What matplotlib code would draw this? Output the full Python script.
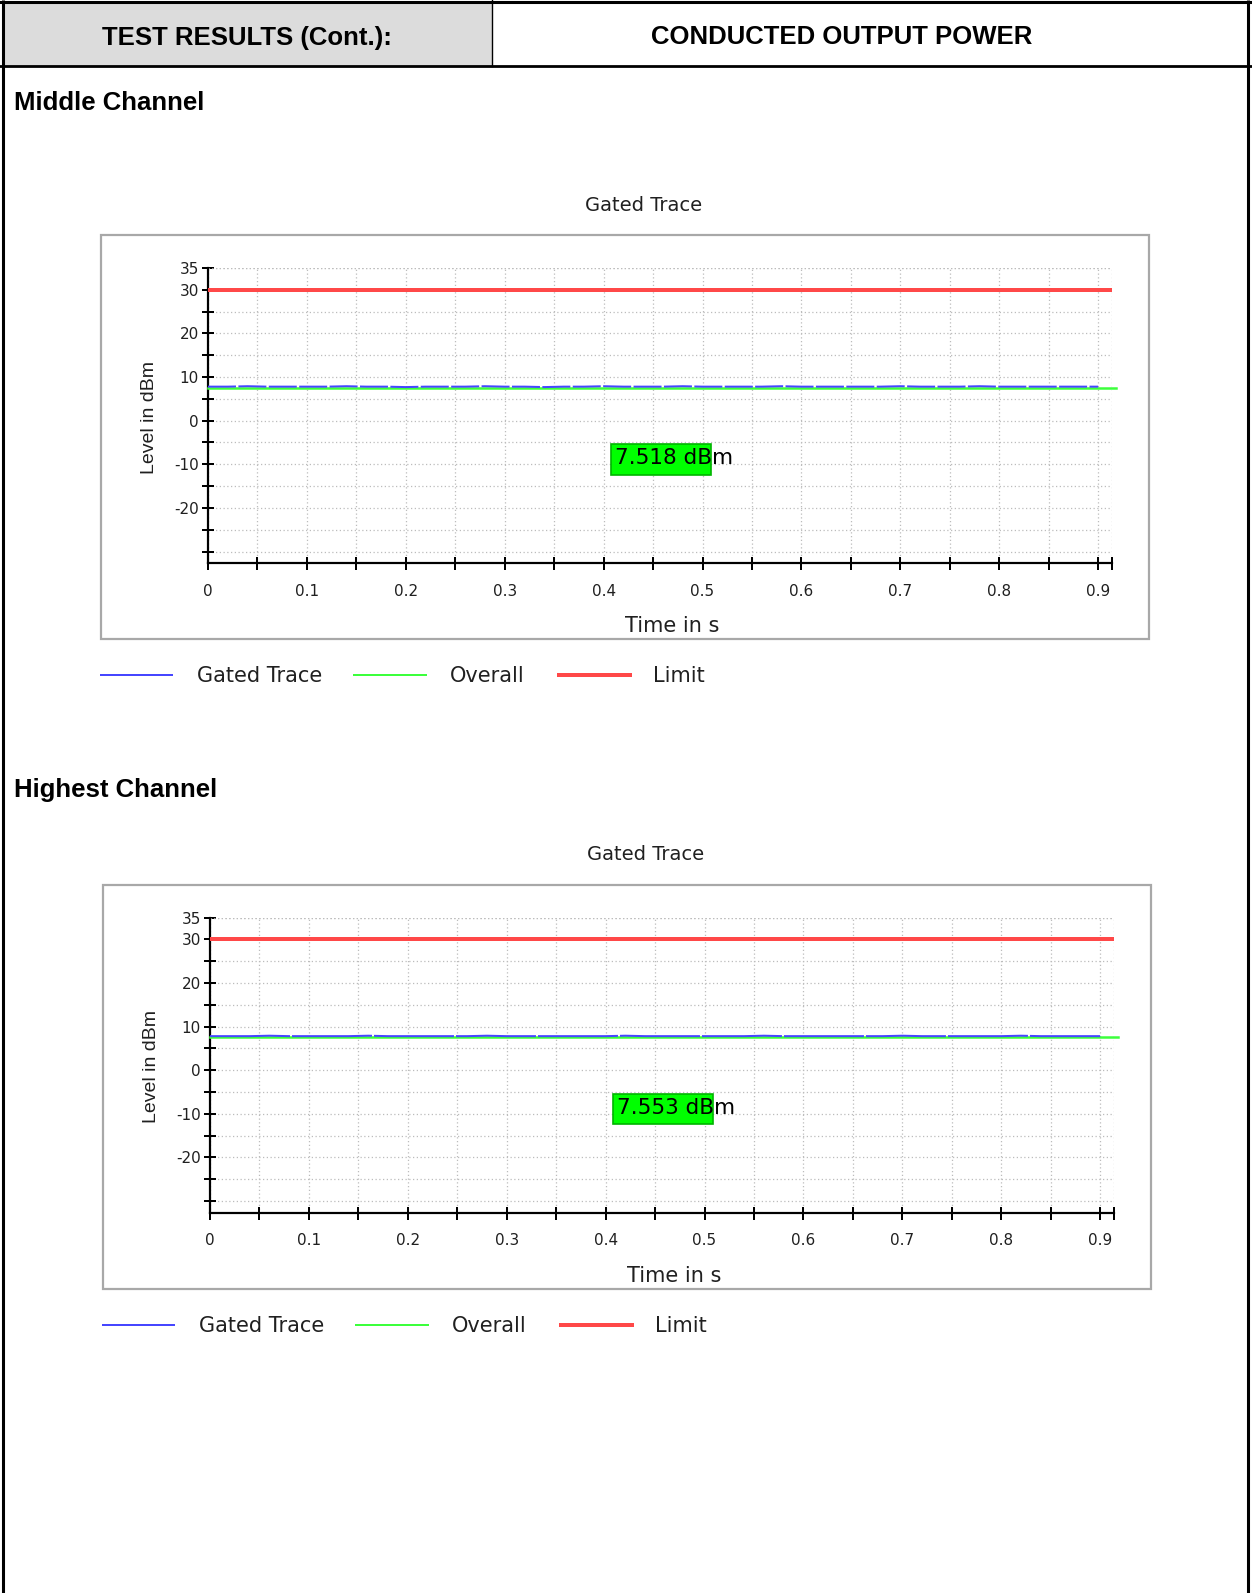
import numpy as np
import matplotlib
matplotlib.use("Agg")
import matplotlib.pyplot as plt
from matplotlib.patches import Rectangle
from matplotlib.transforms import Bbox, TransformedBbox

# Header / section texts
header_left = "TEST RESULTS (Cont.):"
header_right = "CONDUCTED OUTPUT POWER"
sections = ["Middle Channel", "Highest Channel"]
chart_title = "Gated Trace"
x_label = "Time in s"
y_label = "Level in dBm"
legend_names = ["Gated Trace", "Overall", "Limit"]

# Axis ticks
y_ticks = [-30, -25, -20, -15, -10, -5, 0, 5, 10, 15, 20, 25, 30, 35]
y_ticklabels = ["", "", "-20", "", "-10", "", "0", "", "10", "", "20", "", "30", "35"]
x_ticks = [0, 0.05, 0.1, 0.15, 0.2, 0.25, 0.3, 0.35, 0.4, 0.45, 0.5,
           0.55, 0.6, 0.65, 0.7, 0.75, 0.8, 0.85, 0.9, 0.914]
x_ticklabels = ["0", "", "0.1", "", "0.2", "", "0.3", "", "0.4", "", "0.5",
                "", "0.6", "", "0.7", "", "0.8", "", "0.9", ""]

# Series
limit_time = [0, 0.914]
limit_level = [30, 30]
overall_time = [0, 0.918]
overall_levels = [7.518, 7.553]
readouts = ["7.518 dBm", "7.553 dBm"]

gated_time = np.arange(0, 0.92, 0.02)
gated_mid = [7.8, 7.8, 7.9, 7.8, 7.8, 7.8, 7.8, 7.9, 7.8, 7.8, 7.7, 7.8, 7.8, 7.8,
             7.9, 7.8, 7.8, 7.7, 7.8, 7.8, 7.9, 7.8, 7.8, 7.8, 7.9, 7.8, 7.8, 7.8,
             7.8, 7.9, 7.8, 7.8, 7.8, 7.8, 7.8, 7.9, 7.8, 7.8, 7.8, 7.9, 7.8, 7.8,
             7.8, 7.8, 7.8, 7.8]
gated_high = [7.8, 7.8, 7.8, 7.9, 7.8, 7.8, 7.8, 7.8, 7.9, 7.8, 7.8, 7.8, 7.8, 7.8,
              7.9, 7.8, 7.8, 7.8, 7.8, 7.8, 7.8, 7.9, 7.8, 7.8, 7.8, 7.8, 7.8, 7.8,
              7.9, 7.8, 7.8, 7.8, 7.8, 7.8, 7.8, 7.9, 7.8, 7.8, 7.8, 7.8, 7.8, 7.9,
              7.8, 7.8, 7.8, 7.8]
gated_series = [gated_mid, gated_high]
gated_dashes = [(0, (14, 1.2)), (0, (40, 1))]

W, H = 1252, 1593
fig = plt.figure(figsize=(W / 100, H / 100), dpi=100)

# full-figure axes in pixel coordinates for the page layout
bg = fig.add_axes([0, 0, 1, 1])
bg.set_xlim(0, W)
bg.set_ylim(H, 0)
bg.axis("off")

# page table borders
bg.add_patch(Rectangle((3, 3), 488.5, 63, facecolor="#dcdcdc", edgecolor="none"))
bg.plot([3, 3], [0, H], color="black", lw=2.2, solid_capstyle="butt")
bg.plot([1248, 1248], [0, H], color="black", lw=2.2, solid_capstyle="butt")
bg.plot([0, W], [2, 2], color="black", lw=2.2)
bg.plot([0, W], [66.3, 66.3], color="black", lw=2.0)
bg.plot([491.5, 491.5], [0, 66], color="black", lw=1.0)

bg.text(247, 37.5, header_left, ha="center", va="center", fontsize=18.5,
        fontweight="bold", family="Liberation Sans")
bg.text(842, 37.5, header_right, ha="center", va="center", fontsize=18.5,
        fontweight="bold", family="Liberation Sans")

blue, green, red = "#4646ff", "#3cff3c", "#ff4848"
txt_col = "#202020"


def px(v):
    return v * 72 / 100


def clipped_text(x, y, s, clip_y, **kw):
    t = bg.text(x, y, s, **kw)
    box = TransformedBbox(Bbox([[0, 0], [W, clip_y]]), bg.transData)
    t.set_clip_box(box)
    t.set_clip_on(True)
    return t


for i in range(2):
    dx, dy = 2 * i, 649.5 * i
    section_y = [102.5, 789.5][i]
    bg.text(14, section_y, sections[i], ha="left", va="center", fontsize=18.5,
            fontweight="bold", family="Liberation Sans")

    # chart frame
    bg.add_patch(Rectangle((101 + dx, 235 + dy), 1048, 404, facecolor="white",
                           edgecolor="#a8a8a8", lw=1.6))
    clipped_text(644 + dx, 205.5 + dy, chart_title, 211 + dy, ha="center",
                 va="center", fontsize=14, color=txt_col, family="DejaVu Sans")

    # plotting area
    left, right, top, bottom = 208 + dx, 1112 + dx, 268 + dy, 563.3 + dy
    ax = fig.add_axes([left / W, 1 - bottom / H, (right - left) / W, (bottom - top) / H])
    ax.set_xlim(0, 0.914)
    ax.set_ylim(-32.7, 35)
    ax.patch.set_alpha(0)
    for s in ["top", "right"]:
        ax.spines[s].set_visible(False)
    for s in ["left", "bottom"]:
        ax.spines[s].set_linewidth(px(2.2))
        ax.spines[s].set_color("black")
    ax.set_yticks(y_ticks)
    ax.set_yticklabels(y_ticklabels)
    ax.set_xticks(x_ticks)
    ax.set_xticklabels(x_ticklabels)
    ax.tick_params(axis="y", direction="inout", length=px(12), width=px(2),
                   pad=px(3), labelsize=11, labelcolor=txt_col)
    ax.tick_params(axis="x", direction="inout", length=px(13), width=px(2),
                   pad=px(14), labelsize=11, labelcolor=txt_col)
    ax.grid(True, color="#bcbcbc", linestyle=(0, (1, 2)), lw=0.9)
    ax.axhline(35, color="#bcbcbc", linestyle=(0, (1, 2)), lw=0.9)

    ax.plot(limit_time, limit_level, color=red, lw=px(4), solid_capstyle="butt", zorder=3)
    ax.plot(overall_time, [overall_levels[i]] * 2, color=green, lw=px(2.5),
            clip_on=False, zorder=3)
    ax.plot(gated_time, gated_series[i], color=blue, lw=px(2),
            linestyle=gated_dashes[i], zorder=3)

    # readout marker
    ax.add_patch(Rectangle((0.407, -12.4), 0.102, 7.0, facecolor="#00ff00",
                           edgecolor="#00b400", lw=1.2, zorder=4))
    ax.text(0.411, -8.6, readouts[i], ha="left", va="center", fontsize=15.5,
            color="black", family="DejaVu Sans", zorder=5)

    bg.text(149 + dx, 417 + dy, y_label, rotation=90, ha="center", va="center",
            fontsize=14, color=txt_col, family="Liberation Sans")
    bg.text(672 + dx, 626.5 + dy, x_label, ha="center", va="center", fontsize=15,
            color=txt_col, family="DejaVu Sans")

    # legend under the chart
    ly = 675 + dy
    clip_y = 683 + dy
    bg.plot([101 + dx, 172 + dx], [ly, ly], color=blue, lw=px(2))
    clipped_text(197 + dx, ly + 1, legend_names[0], clip_y, ha="left", va="center",
                 fontsize=15, color=txt_col, family="DejaVu Sans")
    bg.plot([354 + dx, 426 + dx], [ly, ly], color=green, lw=px(2))
    clipped_text(450 + dx, ly + 1, legend_names[1], clip_y, ha="left", va="center",
                 fontsize=15, color=txt_col, family="DejaVu Sans")
    bg.plot([559 + dx, 630 + dx], [ly, ly], color=red, lw=px(4))
    clipped_text(653 + dx, ly + 1, legend_names[2], clip_y, ha="left", va="center",
                 fontsize=15, color=txt_col, family="DejaVu Sans")

fig.savefig("out.png", dpi=100)
